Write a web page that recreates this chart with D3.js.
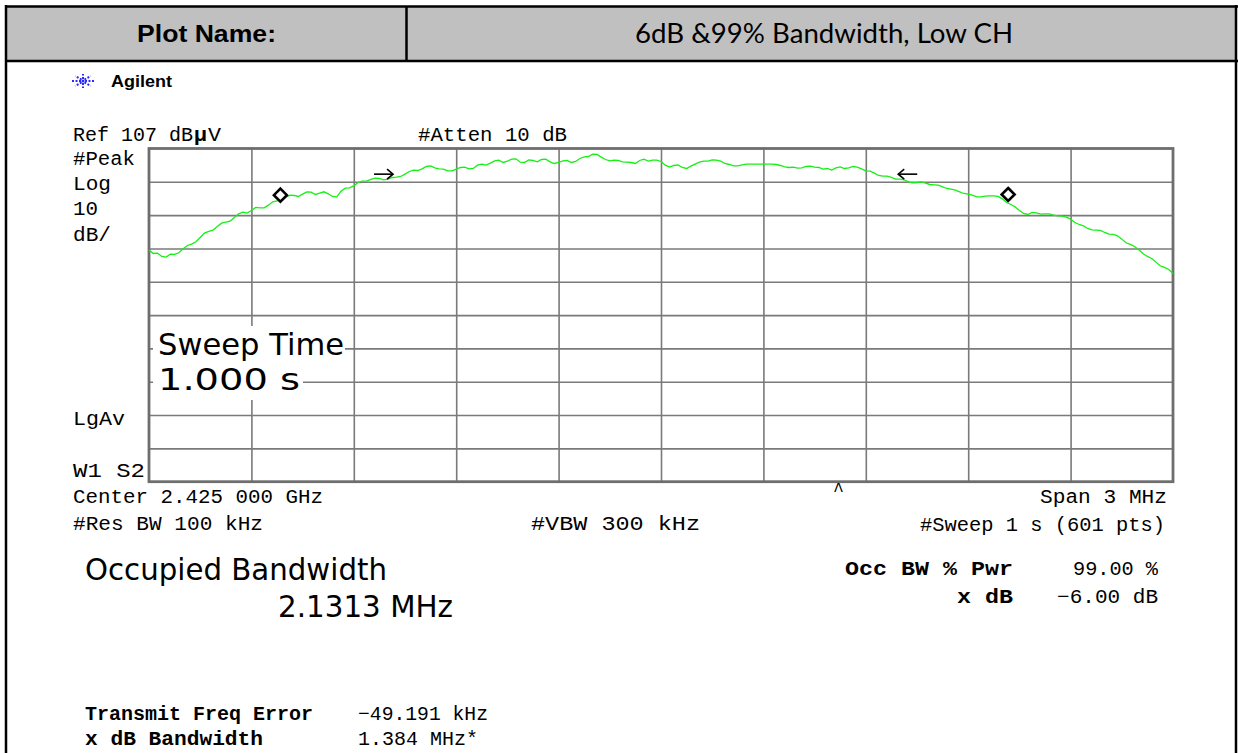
<!DOCTYPE html>
<html><head><meta charset="utf-8">
<script src="https://cdn.jsdelivr.net/npm/d3@7"></script>
<style>html,body{margin:0;padding:0;background:#fff;}svg{display:block;}</style>
</head><body>
<script>
// ---- data ----
const refLevel = 107, dbPerDiv = 10, divisions = 10;
const spanMHz = 3;
const freqOffsetMHz = [
-1.5000,-1.4875,-1.4750,-1.4625,-1.4500,-1.4375,-1.4250,-1.4125,-1.4000,-1.3875,-1.3750,-1.3625,-1.3500,-1.3375,-1.3250,-1.3125,-1.3000,-1.2875,-1.2750,-1.2625,
-1.2500,-1.2375,-1.2250,-1.2125,-1.2000,-1.1875,-1.1750,-1.1625,-1.1500,-1.1375,-1.1250,-1.1125,-1.1000,-1.0875,-1.0750,-1.0625,-1.0500,-1.0375,-1.0250,-1.0125,
-1.0000,-0.9875,-0.9750,-0.9625,-0.9500,-0.9375,-0.9250,-0.9125,-0.9000,-0.8875,-0.8750,-0.8625,-0.8500,-0.8375,-0.8250,-0.8125,-0.8000,-0.7875,-0.7750,-0.7625,
-0.7500,-0.7375,-0.7250,-0.7125,-0.7000,-0.6875,-0.6750,-0.6625,-0.6500,-0.6375,-0.6250,-0.6125,-0.6000,-0.5875,-0.5750,-0.5625,-0.5500,-0.5375,-0.5250,-0.5125,
-0.5000,-0.4875,-0.4750,-0.4625,-0.4500,-0.4375,-0.4250,-0.4125,-0.4000,-0.3875,-0.3750,-0.3625,-0.3500,-0.3375,-0.3250,-0.3125,-0.3000,-0.2875,-0.2750,-0.2625,
-0.2500,-0.2375,-0.2250,-0.2125,-0.2000,-0.1875,-0.1750,-0.1625,-0.1500,-0.1375,-0.1250,-0.1125,-0.1000,-0.0875,-0.0750,-0.0625,-0.0500,-0.0375,-0.0250,-0.0125,
0.0000,0.0125,0.0250,0.0375,0.0500,0.0625,0.0750,0.0875,0.1000,0.1125,0.1250,0.1375,0.1500,0.1625,0.1750,0.1875,0.2000,0.2125,0.2250,0.2375,
0.2500,0.2625,0.2750,0.2875,0.3000,0.3125,0.3250,0.3375,0.3500,0.3625,0.3750,0.3875,0.4000,0.4125,0.4250,0.4375,0.4500,0.4625,0.4750,0.4875,
0.5000,0.5125,0.5250,0.5375,0.5500,0.5625,0.5750,0.5875,0.6000,0.6125,0.6250,0.6375,0.6500,0.6625,0.6750,0.6875,0.7000,0.7125,0.7250,0.7375,
0.7500,0.7625,0.7750,0.7875,0.8000,0.8125,0.8250,0.8375,0.8500,0.8625,0.8750,0.8875,0.9000,0.9125,0.9250,0.9375,0.9500,0.9625,0.9750,0.9875,
1.0000,1.0125,1.0250,1.0375,1.0500,1.0625,1.0750,1.0875,1.1000,1.1125,1.1250,1.1375,1.1500,1.1625,1.1750,1.1875,1.2000,1.2125,1.2250,1.2375,
1.2500,1.2625,1.2750,1.2875,1.3000,1.3125,1.3250,1.3375,1.3500,1.3625,1.3750,1.3875,1.4000,1.4125,1.4250,1.4375,1.4500,1.4625,1.4750,1.4875,
1.5000];
const levelDbuV = [
76.5,75.5,75.6,74.6,74.4,75.3,75.2,75.7,76.9,77.9,78.3,79.0,80.3,81.6,82.1,82.5,83.6,84.6,84.9,85.2,
86.3,87.4,87.9,87.6,88.4,89.3,89.2,89.2,90.0,91.0,91.3,91.5,92.3,93.0,92.9,92.6,93.3,94.0,93.9,93.2,
93.6,94.0,93.4,92.6,92.5,94.2,95.1,95.2,95.8,96.8,97.2,97.2,97.7,98.1,98.0,97.6,97.8,98.3,98.4,98.6,
99.3,100.1,100.5,100.4,100.9,101.6,101.8,101.2,100.9,100.8,100.3,100.3,100.8,101.3,101.4,100.9,101.0,102.0,102.3,102.0,
102.6,103.3,103.5,102.8,103.2,103.8,103.9,102.9,102.8,103.6,103.4,103.0,103.7,103.8,103.0,102.5,102.8,103.3,103.4,102.8,
103.1,104.0,104.5,104.6,105.3,105.2,104.4,103.7,103.3,103.5,103.4,103.0,102.9,102.8,102.5,103.4,103.8,103.2,103.5,103.5,
103.1,102.0,101.4,101.9,102.1,101.3,101.0,101.7,102.3,102.9,103.2,103.2,103.6,103.5,103.2,102.5,102.2,101.8,101.8,102.1,
102.3,102.3,102.3,102.3,102.3,102.3,102.3,102.2,101.9,101.5,101.3,101.4,101.1,101.2,101.6,101.7,101.4,101.3,100.8,101.0,
100.5,101.2,101.5,101.0,101.2,101.6,101.4,100.9,100.3,100.2,99.6,98.9,98.7,98.7,98.3,97.8,97.8,97.6,97.0,96.7,
96.8,97.0,96.6,96.2,96.1,96.0,95.5,95.0,94.8,94.5,94.0,93.5,93.3,93.0,92.5,92.5,92.7,92.8,92.8,92.6,
91.9,90.8,90.2,89.5,88.4,87.5,87.2,87.8,87.7,87.3,87.4,87.4,87.0,86.8,86.7,86.4,85.8,84.8,84.2,83.8,
83.0,82.6,82.5,82.4,81.8,81.3,81.2,80.8,79.8,78.7,78.2,77.6,76.6,75.4,74.6,74.0,72.9,71.8,71.3,70.7,
69.5];
const diamondF = [-1.115, 1.017];
const diamondDb = [93.0, 93.2];
const arrowF = [-0.785, 0.695];
const arrowDb = [99.3, 99.3];
const arrowDir = [1, -1];

(function () {
const W = 1238, H = 753;
const svg = d3.select("body").append("svg").attr("width", W).attr("height", H);

// ---- table frame ----
svg.append("rect").attr("x",6).attr("y",7).attr("width",1230).attr("height",53).attr("fill","#c0c0c0");
const frame = svg.append("g").attr("stroke","#000").attr("stroke-width",2.5);
frame.append("line").attr("x1",5).attr("x2",1238).attr("y1",6.5).attr("y2",6.5);
frame.append("line").attr("x1",5).attr("x2",1238).attr("y1",61).attr("y2",61);
frame.append("line").attr("x1",6).attr("x2",6).attr("y1",5).attr("y2",H);
frame.append("line").attr("x1",406.5).attr("x2",406.5).attr("y1",6).attr("y2",61);
frame.append("line").attr("x1",1236).attr("x2",1236).attr("y1",5).attr("y2",H);

svg.append("text").attr("x",137).attr("y",42).attr("textLength",139).attr("lengthAdjust","spacingAndGlyphs")
  .attr("font-family","Liberation Sans, Arial, sans-serif").attr("font-weight","bold").attr("font-size",24)
  .text("Plot Name:");
svg.append("text").attr("x",635).attr("y",43).attr("textLength",378).attr("lengthAdjust","spacingAndGlyphs")
  .attr("font-family","Lato, 'Open Sans', sans-serif").attr("font-size",26)
  .text("6dB &99% Bandwidth, Low CH");

// Agilent logo
const logo = svg.append("g").attr("transform","translate(83,81)");
d3.range(8).forEach(i => {
  const a = i*Math.PI/4;
  logo.append("line").attr("x1",2*Math.cos(a)).attr("y1",2*Math.sin(a)).attr("x2",11*Math.cos(a)).attr("y2",7*Math.sin(a))
    .attr("stroke","#2a2aff").attr("stroke-width",2).attr("stroke-dasharray","2,1.5");
});
logo.append("circle").attr("r",1.5).attr("fill","#2a2aff");
svg.append("text").attr("x",111).attr("y",87).attr("textLength",61).attr("lengthAdjust","spacingAndGlyphs")
  .attr("font-family","Liberation Sans, Arial, sans-serif")
  .attr("font-weight","bold").attr("font-size",17).text("Agilent");

// ---- plot scales ----
const pL = 149, pR = 1173, pT = 148.5, pB = 481.7;
const x = d3.scaleLinear().domain([-spanMHz/2, spanMHz/2]).range([pL, pR]);
const y = d3.scaleLinear().domain([refLevel - dbPerDiv*divisions, refLevel]).range([pB, pT]);

const grid = svg.append("g");
const xAxis = d3.axisBottom(x).tickValues(d3.range(1,divisions).map(i => -spanMHz/2 + i*spanMHz/divisions))
  .tickSize(-(pB-pT)).tickFormat("");
const yAxis = d3.axisLeft(y).tickValues(d3.range(1,divisions).map(i => refLevel - i*dbPerDiv))
  .tickSize(-(pR-pL)).tickFormat("");
grid.append("g").attr("transform",`translate(0,${pB})`).call(xAxis)
  .call(g => g.select(".domain").remove())
  .call(g => g.selectAll("line").attr("stroke","#7a7a7a").attr("stroke-width",1.6));
grid.append("g").attr("transform",`translate(${pL},0)`).call(yAxis)
  .call(g => g.select(".domain").remove())
  .call(g => g.selectAll("line").attr("stroke","#7a7a7a").attr("stroke-width",1.6));
grid.append("rect").attr("x",pL).attr("y",pT).attr("width",pR-pL).attr("height",pB-pT)
  .attr("fill","none").attr("stroke","#6e6e6e").attr("stroke-width",2.8);

// trace
const pts = freqOffsetMHz.map((f,i) => [f, levelDbuV[i]]);
svg.append("path").datum(pts).attr("fill","none").attr("stroke","#14f014").attr("stroke-width",1.3)
  .attr("d", d3.line().x(d => x(d[0])).y(d => y(d[1])));

// diamond markers
diamondF.forEach((f,i) => {
  const cx = x(f), cy = y(diamondDb[i]);
  svg.append("path").attr("d",`M${cx},${cy-6.5}L${cx+6.5},${cy}L${cx},${cy+6.5}L${cx-6.5},${cy}Z`)
    .attr("fill","#fff").attr("stroke","#000").attr("stroke-width",2.6);
});
// arrows
arrowF.forEach((f,i) => {
  const tx = x(f), ty = y(arrowDb[i]), d = arrowDir[i];
  const g = svg.append("g").attr("stroke","#000").attr("stroke-width",1.6).attr("fill","none");
  g.append("line").attr("x1",tx - d*19).attr("x2",tx).attr("y1",ty).attr("y2",ty);
  g.append("path").attr("d",`M${tx - d*6},${ty-5}L${tx},${ty}L${tx - d*6},${ty+5}`);
});

// Sweep time box
svg.append("rect").attr("x",153).attr("y",326).attr("width",192).attr("height",39).attr("fill","#fff");
svg.append("rect").attr("x",153).attr("y",365).attr("width",150).attr("height",35).attr("fill","#fff");

// ---- text ----
const mono = "Liberation Mono, DejaVu Sans Mono, monospace";
const txt = (t, x0, yb, len, opts={}) => {
  const e = svg.append("text").attr("x",x0).attr("y",yb)
    .attr("font-family", opts.family || mono).attr("font-size", opts.size || 20)
    .attr("font-weight", opts.bold ? "bold" : "normal");
  if (len) e.attr("textLength",len).attr("lengthAdjust", opts.adj || "spacingAndGlyphs");
  if (opts.anchor) e.attr("text-anchor",opts.anchor);
  e.text(t);
  return e;
};
txt("Ref 107 dB", 73, 141, 120);
txt("µ", 194, 141, 13, {bold: true});
txt("V", 208, 141, 13);
txt("#Atten 10 dB", 418, 141, 149);
txt("#Peak", 73, 165, 62);
txt("Log", 73, 190, 38);
txt("10", 73, 215, 25);
txt("dB/", 73, 241, 38);
txt("LgAv", 73, 425, 52);
txt("W1  S2", 73, 477, 72);
txt("Center 2.425 000 GHz", 73, 503, 250);
txt("#Res BW 100 kHz", 73, 530, 190);
txt("#VBW 300 kHz", 531, 530, 169);
txt("Span 3 MHz", 1040, 503, 127);
txt("#Sweep 1 s (601 pts)", 920, 531, 245);
txt("^", 833, 496, 11);

const big = "DejaVu Sans, Liberation Sans, sans-serif";
txt("Sweep Time", 158, 355, 186, {family: big, size: 31});
txt("1.000  s", 158, 390, 142, {family: big, size: 31});
txt("Occupied Bandwidth", 85, 580, 302, {family: big, size: 31});
txt("2.1313 MHz", 278, 617, 175, {family: big, size: 31});

txt("Transmit Freq Error", 85, 720, 228, {bold: true});
txt("\u221249.191 kHz", 358, 720, 130);
txt("x dB Bandwidth", 85, 745, 178, {bold: true});
txt("1.384 MHz*", 358, 745, 120);
txt("Occ BW % Pwr", 845, 575, 168, {bold: true});
txt("99.00 %", 1073, 575, 85);
txt("x dB", 957, 603, 56, {bold: true});
txt("\u22126.00 dB", 1057, 603, 101);
})();
</script>
</body></html>
